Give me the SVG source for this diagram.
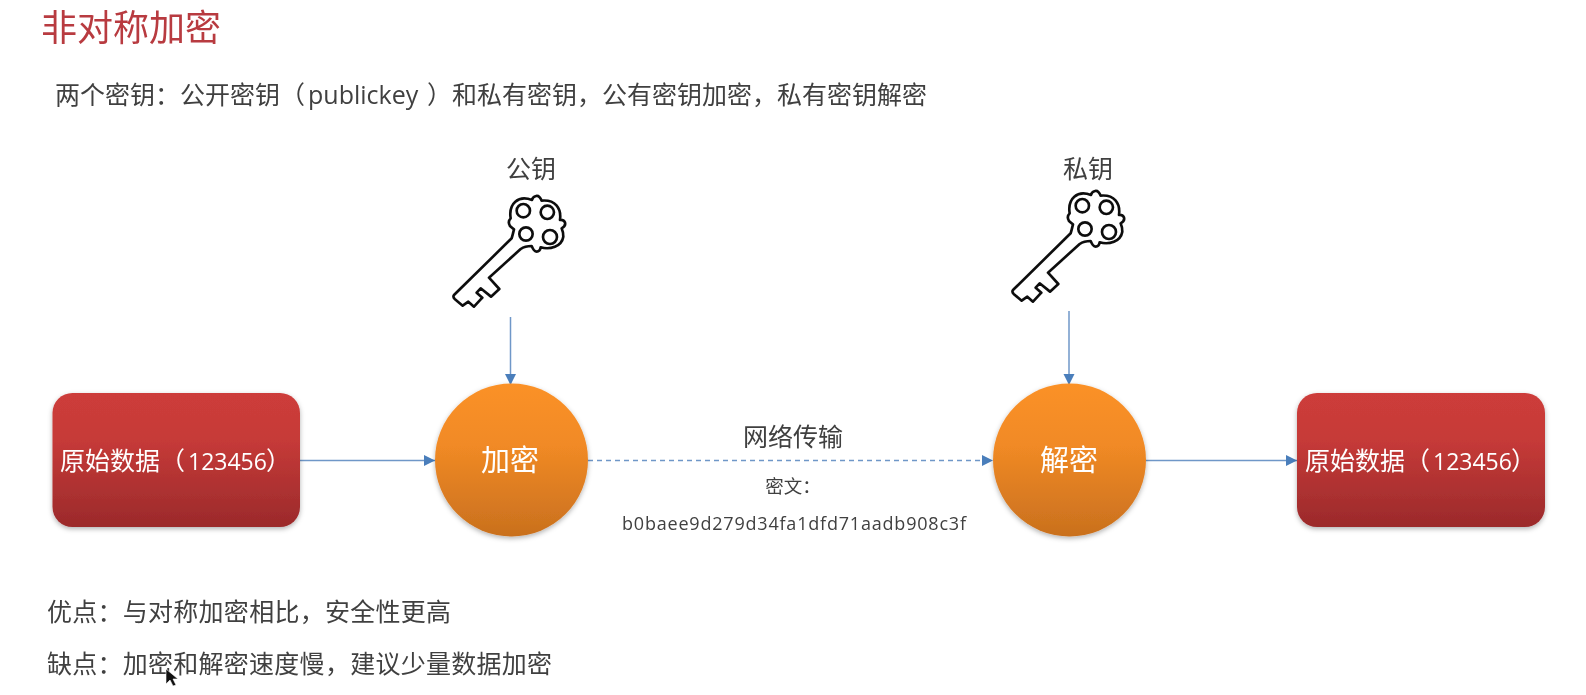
<svg xmlns="http://www.w3.org/2000/svg" width="1586" height="695" viewBox="0 0 1586 695">
<style>
text{font-family:"Noto Sans CJK SC","Liberation Sans",sans-serif;fill:#404040;filter:url(#soft)}
.lat{font-family:"Open Sans","Noto Sans CJK SC",sans-serif}
.w{fill:#fff}
.m{text-anchor:middle}
.c{text-anchor:middle}
.ln{stroke:#6f97c8;stroke-width:1.5;fill:none;marker-end:url(#arr)}
.box{fill:url(#red);filter:url(#sh)}
.orb{fill:url(#org);filter:url(#sh)}
.key{fill:#fff;stroke:#111;stroke-width:8;stroke-linejoin:round}
.hole{fill:#fff;stroke:#111;stroke-width:8}
</style>
<defs>
<linearGradient id="red" x1="0" y1="0" x2="0" y2="1"><stop offset="0" stop-color="#cd3c3a"/><stop offset="0.35" stop-color="#c63a38"/><stop offset="1" stop-color="#9b2a2b"/></linearGradient>
<linearGradient id="org" x1="0" y1="0" x2="0" y2="1"><stop offset="0" stop-color="#fb9128"/><stop offset="0.4" stop-color="#f18a25"/><stop offset="1" stop-color="#c9701e"/></linearGradient>
<filter id="sh" x="-10%" y="-10%" width="120%" height="125%"><feDropShadow dx="0" dy="2" stdDeviation="2.5" flood-color="#000" flood-opacity="0.3"/></filter>
<filter id="soft" x="-5%" y="-20%" width="110%" height="140%"><feGaussianBlur stdDeviation="0.45"/></filter>
<marker id="arr" markerUnits="userSpaceOnUse" markerWidth="12" markerHeight="12" refX="11" refY="5.5" orient="auto"><path d="M0 0L11 5.5L0 11Z" fill="#4a7ebb"/></marker>
<g id="keyShape" filter="url(#soft)">
<path class="key" d="M245 295L72 465Q68 470 74 477L98 497L115 485L132 500L157 473L140 458L152 445L183 470L208 447L177 413L272 327Q285 318 305 318Q312 335 320 335Q330 335 332 322C360 330 395 320 400 290C400 280 398 272 395 265Q408 258 405 247Q400 238 390 240C395 205 375 178 335 182Q328 165 318 168Q308 170 306 180C265 165 235 190 242 235Q232 245 240 258Q248 265 252 268Q248 285 245 295Z"/>
<circle class="hole" cx="280" cy="212" r="20"/><circle class="hole" cx="352" cy="217" r="20"/><circle class="hole" cx="288" cy="282" r="20"/><circle class="hole" cx="360" cy="291" r="21"/>
</g>
</defs>
<rect width="1586" height="695" fill="#fff"/>
<g id="title"><text x="41" y="41" font-size="36" style="fill:#b83a40">非对称加密</text></g>
<g id="subtitle"><text y="104" font-size="25"><tspan x="55">两个密钥：公开密钥（</tspan><tspan x="308" font-size="25" class="lat">publickey</tspan><tspan x="427">）和私有密钥，公有密钥加密，私有密钥解密</tspan></text></g>
<g id="connectors">
<line class="ln" x1="510.5" y1="317" x2="510.5" y2="385"/>
<line class="ln" x1="1069" y1="311" x2="1069" y2="385"/>
<line class="ln" x1="300" y1="460.5" x2="435" y2="460.5"/>
<line class="ln" x1="588" y1="460.5" x2="993" y2="460.5" stroke-dasharray="5 4"/>
<line class="ln" x1="1146" y1="460.5" x2="1297" y2="460.5"/>
</g>
<g id="pubkey"><text class="c" x="531" y="178" font-size="25">公钥</text><use href="#keyShape" transform="translate(430 140) scale(.3333)"/></g>
<g id="privkey"><text class="c" x="1088" y="178" font-size="25">私钥</text><use href="#keyShape" transform="translate(989 135) scale(.3333)"/></g>
<g id="src"><rect class="box" x="52.5" y="393" width="247.5" height="134" rx="20"/><text class="w" y="470" font-size="25"><tspan x="60">原始数据（</tspan><tspan x="188" font-size="23" class="lat">123456</tspan><tspan x="266">）</tspan></text></g>
<g id="enc"><circle class="orb" cx="511.5" cy="460" r="76.5"/><text class="w m" x="510" y="471" font-size="29">加密</text></g>
<g id="dec"><circle class="orb" cx="1069.5" cy="460" r="76.5"/><text class="w m" x="1069" y="471" font-size="29">解密</text></g>
<g id="dst"><rect class="box" x="1297" y="393" width="248" height="134" rx="20"/><text class="w" y="470" font-size="25"><tspan x="1305">原始数据（</tspan><tspan x="1433" font-size="23" class="lat">123456</tspan><tspan x="1511">）</tspan></text></g>
<g id="network">
<text class="c" x="793" y="446" font-size="25">网络传输</text>
<text class="c" x="793" y="493" font-size="18.5">密文：</text>
<text class="c lat" x="794" y="530" font-size="18" textLength="344">b0baee9d279d34fa1dfd71aadb908c3f</text>
</g>
<g id="notes">
<text x="47" y="621" font-size="25" textLength="404">优点：与对称加密相比，安全性更高</text>
<text x="47" y="673" font-size="25" textLength="505">缺点：加密和解密速度慢，建议少量数据加密</text>
</g>
<path id="cursor" d="M166 669L166 684L170 680L173 686L176 685L173 679L178 679Z" fill="#111" stroke="#fff" stroke-width=".6"/>
</svg>
